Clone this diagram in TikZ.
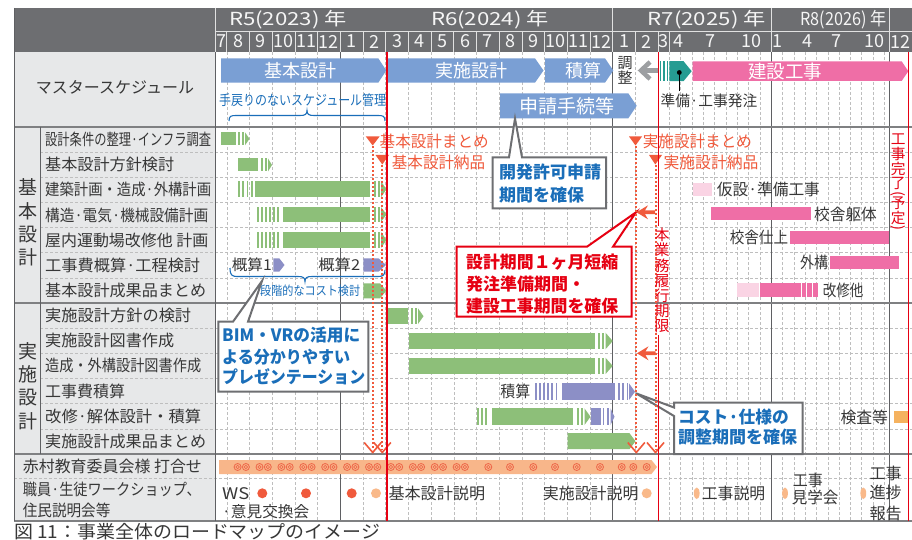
\documentclass[tikz,border=0pt]{standalone}
\usepackage{fontspec}
\setmainfont{Noto Sans CJK JP}
\usepackage{graphicx}
\definecolor{hdr}{RGB}{109,110,113}
\definecolor{hdrtxt}{RGB}{245,245,245}
\definecolor{labbg}{RGB}{231,232,233}
\definecolor{txt}{RGB}{55,55,55}
\definecolor{gridc}{RGB}{190,190,190}
\definecolor{bordc}{RGB}{95,96,99}
\definecolor{gbar}{RGB}{141,191,121}
\definecolor{pbar}{RGB}{140,143,198}
\definecolor{bbar}{RGB}{122,159,212}
\definecolor{pinkb}{RGB}{239,110,166}
\definecolor{lpink}{RGB}{250,212,228}
\definecolor{tealb}{RGB}{38,156,146}
\definecolor{oband}{RGB}{248,182,138}
\definecolor{ored}{RGB}{240,90,60}
\definecolor{ocir}{RGB}{238,105,75}
\definecolor{rline}{RGB}{230,0,18}
\definecolor{btxt}{RGB}{26,110,185}
\definecolor{cgray}{RGB}{110,111,114}
\definecolor{osq}{RGB}{245,178,95}
\definecolor{ldot}{RGB}{249,185,138}
\definecolor{agray}{RGB}{157,159,162}
\newcommand{\fs}[1]{\fontsize{#1}{#1}\selectfont}
\newcommand{\fw}[2]{\resizebox{#1pt}{\height}{#2}}
\newcommand{\rp}[1]{\rotatebox[origin=c]{-90}{#1}}
\newcommand{\pent}[6]{\fill[#1] ({#2},{#5-#6}) -- ({#3},{#5-#6}) -- ({#4},{#5}) -- ({#3},{#5+#6}) -- ({#2},{#5+#6}) -- cycle;}
\newcommand{\strp}[5]{\foreach \k in {1,...,#3}{\fill[#1] ({#2+4.1*(\k-1)},{#4-#5}) rectangle ++(1.9,{2*#5});}}
\newcommand{\tipp}[5]{\fill[#1] ({#2},{#4-#5}) -- ({#3},{#4}) -- ({#2},{#4+#5}) -- cycle;}
\newcommand{\rbar}[5]{\fill[#1] ({#2},{#4-#5}) rectangle ({#3},{#4+#5});}
\newcommand{\dcirc}[1]{\draw[ocir,line width=0.85pt] (#1,467) circle[radius=3.5]; \draw[ocir,line width=0.7pt] (#1,467) circle[radius=1.7];}
\newcommand{\vhead}[1]{\draw[ored,line width=1.6pt] ({#1-8.5},442.5) -- (#1,452.5) -- ({#1+8.5},442.5);}
\begin{document}
\begin{tikzpicture}[x=1pt,y=-1pt,
  lab/.style={anchor=west,inner sep=0pt,text=txt,font=\fs{16}},
  hdrt/.style={inner sep=0pt,text=hdrtxt,font=\fs{18}},
  gridl/.style={draw=gridc,dash pattern=on 3pt off 2pt,line width=0.6pt},
  solidl/.style={draw=bordc,line width=1pt},
  secl/.style={draw=bordc!80,line width=1.3pt},
  hdl/.style={draw=hdrtxt!85!hdr,line width=0.8pt},
  callb/.style={anchor=west,inner sep=0pt,text=btxt,font=\fs{17}\bfseries},
  callr/.style={anchor=west,inner sep=0pt,text=rline,font=\fs{17}\bfseries},
  mtxt/.style={anchor=west,inner sep=0pt,text=ored,font=\fs{16}},
  btext/.style={inner sep=0pt,text=white,font=\fs{18}},
  dotl/.style={draw=ored,line width=2pt,dash pattern=on 1.8pt off 2.2pt},
  callbox/.style={fill=white,draw=cgray,line width=2pt,line join=miter}
]
\useasboundingbox (0,0) rectangle (912,540);
\fill[white] (0,0) rectangle (912,540);
% label column and header
\fill[labbg] (14,52) rectangle (215,521);
\fill[hdr] (14,8) rectangle (912,52);
% grid
\foreach \t in {-5,...,13} \draw[gridl] ({340.3+22.7*\t},52) -- ++(0,469);
\foreach \k in {0,...,8} \draw[gridl] ({669.3+11.33*\k},52) -- ++(0,469);
\foreach \k in {1,...,10} \draw[gridl] ({771.3+11.3*\k},52) -- ++(0,469);
\foreach \i in {1,...,6} \draw[gridl] (40,{127+25.143*\i}) -- (912,{127+25.143*\i});
\foreach \i in {1,...,5} \draw[gridl] (40,{303+25.167*\i}) -- (912,{303+25.167*\i});
\draw[gridl] (14,478) -- (912,478);
% solid lines
\foreach \xx in {340.3,612.7,771.3,889.3} \draw[solidl] (\xx,52) -- (\xx,521);
\draw[secl] (14,127) -- (912,127);
\draw[secl] (14,303) -- (912,303);
\draw[secl] (14,454) -- (912,454);
\draw[secl] (14,521) -- (912,521);
\draw[solidl] (14,8) -- (14,521);
\draw[solidl] (40,127) -- (40,454);
\draw[solidl] (215,52) -- (215,521);
% header dividers
\draw[hdl] (215,31) -- (912,31);
\draw[hdl] (215,8) -- (215,52);
\foreach \xx in {612.7,771.3,889.3} \draw[hdl] (\xx,8) -- (\xx,52);
\foreach \t in {-5,...,14} \draw[hdl] ({340.3+22.7*\t},31) -- ++(0,21);
\draw[hdl] (669.3,31) -- (669.3,52);
% header texts
\node[hdrt] (y5) at (288,19.5) {\fw{118}{R5(2023) 年}};
\node[hdrt] (y6) at (490,19.5) {\fw{118}{R6(2024) 年}};
\node[hdrt] (y7) at (706.7,19.5) {\fw{118}{R7(2025) 年}};
\node[hdrt] (y8) at (843.3,19.5) {\fw{86}{R8(2026) 年}};
\node[hdrt] (m7a) at (221,41.5) {7};
\foreach \m [count=\c from -5] in {8,9,10,11,12,1,2,3,4,5,6,7,8,9,10,11,12,1,2}
  \node[hdrt] (mm\c) at ({340.3+22.7*\c+11.35},41.5) {\m};
\node[hdrt] (m3c) at (663.8,41.5) {3};
\node[hdrt] (m4c) at (678.5,41.5) {4};
\node[hdrt] (m7c) at (710.5,41.5) {7};
\node[hdrt] (m10c) at (751.7,41.5) {10};
\node[hdrt] (m1d) at (777.5,41.5) {1};
\node[hdrt] (m4d) at (807.5,41.5) {4};
\node[hdrt] (m7d) at (836.7,41.5) {7};
\node[hdrt] (m10d) at (874.2,41.5) {10};
\node[hdrt] (m12d) at (900,41.5) {12};
% labels
\node[inner sep=0pt,text=txt,font=\fs{16}] (lms) at (115,87) {マスタースケジュール};
\node[inner sep=0pt,text=txt,align=center,font=\fontsize{19}{23.3}\selectfont] (lsa) at (27.5,222.5) {基\\本\\設\\計};
\node[inner sep=0pt,text=txt,align=center,font=\fontsize{19}{23.3}\selectfont] (lsb) at (28.3,386) {実\\施\\設\\計};
\node[lab] (la1) at (45,139.6) {\fw{166}{設計条件の整理·インフラ調査}};
\node[lab] (la2) at (45,164.7) {\fw{129}{基本設計方針検討}};
\node[lab] (la3) at (45,189.8) {\fw{166}{建築計画・造成·外構計画}};
\node[lab] (la4) at (45,215.0) {\fw{163}{構造·電気·機械設備計画}};
\node[lab] (la5) at (45,240.1) {\fw{163}{屋内運動場改修他 計画}};
\node[lab] (la6) at (45,265.3) {\fw{155}{工事費概算·工程検討}};
\node[lab] (la7) at (45,290.4) {\fw{161}{基本設計成果品まとめ}};
\node[lab] (lb1) at (45,315.6) {\fw{146}{実施設計方針の検討}};
\node[lab] (lb2) at (45,340.8) {\fw{129}{実施設計図書作成}};
\node[lab] (lb3) at (45,365.9) {\fw{156}{造成・外構設計図書作成}};
\node[lab] (lb4) at (45,391.1) {\fw{80}{工事費積算}};
\node[lab] (lb5) at (45,416.3) {\fw{156}{改修·解体設計・積算}};
\node[lab] (lb6) at (45,441.4) {\fw{161}{実施設計成果品まとめ}};
\node[lab] (lc1) at (22.7,466.5) {\fw{179}{赤村教育委員会様 打合せ}};
\node[lab] (lc2) at (22.7,489.5) {\fw{178}{職員·生徒ワークショップ、}};
\node[lab] (lc3) at (22.7,510.8) {\fw{87.5}{住民説明会等}};
% master schedule
\pent{bbar}{221}{378.3}{386.3}{70.5}{12.2}
\pent{bbar}{386.7}{535}{543.5}{70.5}{12.2}
\pent{bbar}{545}{605}{613.3}{70.5}{12.2}
\pent{bbar}{500}{628.3}{636.7}{105.8}{12.5}
\node[btext] (tk) at (300,70.5) {基本設計};
\node[btext] (tj) at (471.7,70.5) {実施設計};
\node[btext] (ts) at (583,70.5) {積算};
\node[btext,font=\fs{19}] (tsh) at (567,105.8) {申請手続等};
\node[inner sep=0pt,text=txt,align=center,font=\fontsize{15}{15.5}\selectfont] (tcho) at (625,70.5) {調\\整};
\draw[agray,line width=4.5pt] (658.3,70.5) -- (642,70.5);
\draw[agray,line width=4.5pt,line join=miter] (650,62) -- (641,70.5) -- (650,79);
\foreach \xx in {659.8,663.2,666.6} \fill[tealb] (\xx,61.2) rectangle ++(1.6,20);
\pent{tealb}{669.3}{683.5}{691.7}{71.2}{10}
\pent{pinkb}{692.7}{901.7}{908.3}{71.2}{9.8}
\node[btext,font=\fs{18.5}] (tkj) at (785,71.2) {建設工事};
\fill[black] (679.3,72.5) circle[radius=2.4];
\draw[black,line width=0.9pt] (679.3,72.5) -- (679.3,91);
\node[inner sep=0pt,text=txt,font=\fs{15}] (tjh) at (709,100.5) {\fw{96.7}{準備·工事発注}};
\node[anchor=west,inner sep=0pt,text=btxt,font=\fs{14}] (ttm) at (219,100) {\fw{167}{手戻りのないスケジュール管理}};
\draw[btxt,line width=1.1pt] (229,121) .. controls (229,116) and (231,115.5) .. (236,115.5) -- (300,115.5) .. controls (305,115.5) and (307,114.5) .. (307,110.5) .. controls (307,114.5) and (309,115.5) .. (314,115.5) -- (378,115.5) .. controls (383,115.5) and (385,116) .. (385,121);
% basic design bars
\rbar{gbar}{221}{236}{138.8}{6.5} \strp{gbar}{238.3}{2}{138.8}{6.5} \tipp{gbar}{245}{249.5}{138.8}{6.5}
\rbar{gbar}{237.7}{258.3}{165}{6.5} \strp{gbar}{261}{2}{165}{6.5} \tipp{gbar}{268}{272}{165}{6.5}
\strp{gbar}{238.3}{4}{189.3}{8} \rbar{gbar}{255}{370}{189.3}{8} \strp{gbar}{374}{2}{189.3}{8} \tipp{gbar}{381}{386.5}{189.3}{8}
\strp{gbar}{256.7}{6}{214.5}{7.5} \rbar{gbar}{283.3}{370}{214.5}{7.5} \strp{gbar}{374}{2}{214.5}{7.5} \tipp{gbar}{381}{386.5}{214.5}{7.5}
\strp{gbar}{256.7}{6}{240}{8} \rbar{gbar}{283.3}{370}{240}{8} \strp{gbar}{374}{2}{240}{8} \tipp{gbar}{381}{386.5}{240}{8}
\node[anchor=east,inner sep=0pt,text=txt,font=\fs{15}] (tg1) at (272,264.5) {\fw{40}{概算1}};
\pent{pbar}{273.3}{279.3}{284.5}{265}{6.7}
\node[anchor=east,inner sep=0pt,text=txt,font=\fs{15}] (tg2) at (360.5,264.5) {\fw{42}{概算2}};
\pent{pbar}{363.3}{378.5}{386}{265}{6.7}
\pent{gbar}{363.3}{380}{386.3}{290.8}{7.5}
\draw[btxt,line width=1.1pt] (230,268) .. controls (230,275) and (232,276.5) .. (237,276.5) -- (298,276.5) .. controls (303,276.5) and (305,277.5) .. (305,281.5) .. controls (305,277.5) and (307,276.5) .. (312,276.5) -- (378,276.5) .. controls (383,276.5) and (385,275) .. (385,270);
% detailed design bars
\rbar{gbar}{387.3}{408.3}{316.2}{7.8} \strp{gbar}{411}{2}{316.2}{7.8} \tipp{gbar}{418}{423.5}{316.2}{7.8}
\rbar{gbar}{409.3}{595}{341}{8.3} \strp{gbar}{597.7}{2}{341}{8.3} \tipp{gbar}{605.5}{612.7}{341}{8.3}
\rbar{gbar}{409.3}{595}{365.9}{8.2} \strp{gbar}{597.7}{2}{365.9}{8.2} \tipp{gbar}{605.5}{612.7}{365.9}{8.2}
\node[anchor=east,inner sep=0pt,text=txt,font=\fs{16}] (tsk) at (530.5,391.5) {\fw{30}{積算}};
\strp{pbar}{535}{6}{391.7}{8.3} \rbar{pbar}{561.7}{615}{391.7}{8.3} \strp{pbar}{618.3}{3}{391.7}{8.3} \tipp{pbar}{629}{635}{391.7}{8.3}
\strp{gbar}{476.7}{3}{416.7}{8.3} \rbar{gbar}{491.7}{573.3}{416.7}{8.3} \strp{gbar}{576.7}{2}{416.7}{8.3} \tipp{gbar}{584.5}{590.5}{416.7}{8.3}
\rbar{pbar}{590.7}{600.5}{416.7}{8.3} \strp{pbar}{602.5}{2}{416.7}{8.3} \tipp{pbar}{610.5}{614.5}{416.7}{8.3}
\pent{gbar}{567.7}{629.5}{635.5}{441.2}{8}
% construction bars
\rbar{lpink}{692.7}{711.7}{189.2}{6.5}
\node[lab] (tkr) at (716.7,189.2) {\fw{103}{仮設·準備工事}};
\rbar{pinkb}{711}{810.7}{213.3}{6.7}
\node[lab] (tkt) at (814,214) {\fw{62.7}{校舎躯体}};
\node[lab,anchor=east] (tsa) at (788.3,237.5) {\fw{58.3}{校舎仕上}};
\rbar{pinkb}{790}{889.3}{237.7}{6.7}
\node[lab,anchor=east] (tgk) at (828.3,262.7) {\fw{28}{外構}};
\rbar{pinkb}{830}{899.3}{262.7}{6.7}
\rbar{lpink}{736.7}{759.3}{290}{6.7}
\rbar{pinkb}{760}{818.3}{290}{6.7}
\foreach \xx in {800.5,806,811.5} \fill[white] (\xx,283.3) rectangle ++(1.3,13.4);
\node[lab] (tks) at (822.7,290) {\fw{40.6}{改修他}};
\node[lab,anchor=east] (tkn) at (888.3,417.3) {\fw{47.6}{検査等}};
\fill[osq] (894.3,411) rectangle (908.3,423.3);
% meeting band
\pent{oband}{219}{651.5}{657}{467}{7}
\foreach \k in {0,...,10} {\dcirc{{237.6+21.9*\k}} \dcirc{{245.9+21.9*\k}}}
\foreach \xx in {488.3,510,533.3,555,576.7,600,621.7,633.3,646.7} {\dcirc{\xx}}
% workshop row
\node[lab] (tws) at (222,493.3) {\fw{27}{WS}};
\node[lab,font=\fs{15.5}] (tik) at (222,511.7) {\fw{87}{·意見交換会}};
\foreach \xx in {262.3,306,351.7} \fill[ored] (\xx,493.3) circle[radius=5];
\fill[ldot] (376,493.3) circle[radius=5];
\fill[ldot] (646.7,493.3) circle[radius=5];
\foreach \xx in {696.7,785,863.3} \fill[ldot] (\xx,493.3) ellipse[x radius=2.9,y radius=5.8];
\node[lab] (tkb) at (388.3,493.3) {\fw{96.7}{基本設計説明}};
\node[lab] (tjb) at (542.7,493.3) {\fw{95.6}{実施設計説明}};
\node[lab] (tkjb) at (701.7,493.3) {\fw{63.3}{工事説明}};
\node[lab] (tkg1) at (792.7,480.7) {\fw{30}{工事}};
\node[lab] (tkg2) at (791.7,497.3) {\fw{46.6}{見学会}};
\node[lab] (tsn1) at (869.3,473.3) {\fw{32}{工事}};
\node[lab] (tsn2) at (869.3,492.7) {\fw{32}{進捗}};
\node[lab] (tsn3) at (869.3,513.3) {\fw{32}{報告}};
% callouts
\draw[callbox] (492.7,157.3) -- (509,157.3) -- (515,118.5) -- (522,157.3) -- (606,157.3) -- (606,208.3) -- (492.7,208.3) -- cycle;
\node[callb] (c1a) at (499,172.3) {開発許可申請};
\node[callb] (c1b) at (499,195) {期間を確保};
\draw[callbox,draw=rline] (456.7,246.7) -- (587,246.7) -- (636,212.3) -- (613,246.7) -- (631.7,246.7) -- (631.7,316.7) -- (456.7,316.7) -- cycle;
\node[callr] (c2a) at (466,261.7) {\fw{152}{設計期間１ヶ月短縮}};
\node[callr] (c2b) at (466,284.3) {発注準備期間・};
\node[callr] (c2c) at (466,306) {\fw{152}{建設工事期間を確保}};
\draw[callbox] (218.3,321.7) -- (233,321.7) -- (262,281) -- (248,321.7) -- (368.3,321.7) -- (368.3,391.7) -- (218.3,391.7) -- cycle;
\node[callb] (c3a) at (222,335) {\fw{138}{BIM・VRの活用に}};
\node[callb] (c3b) at (222,356.7) {\fw{128}{よる分かりやすい}};
\node[callb] (c3c) at (222,376.7) {\fw{143}{プレゼンテーション}};
\node[anchor=west,inner sep=0pt,text=btxt,font=\fs{12.5}] (tdk) at (260,291) {\fw{100}{段階的なコスト検討}};
\draw[callbox] (674,402.7) -- (802.7,402.7) -- (802.7,454) -- (674,454) -- (674,416) -- (636,393.3) -- (674,407.5) -- cycle;
\node[callb] (c4a) at (678,416.7) {\fw{110.7}{コスト·仕様の}};
\node[callb] (c4b) at (678,436.7) {\fw{119}{調整期間を確保}};
% milestone markers
\fill[ored] (365.8,136.5) -- (379.6,136.5) -- (372.7,145.5) -- cycle;
\fill[ored] (375.5,155) -- (389,155) -- (382.3,164.5) -- cycle;
\fill[ored] (629,136.5) -- (642,136.5) -- (635.5,145.5) -- cycle;
\fill[ored] (649,155) -- (662,155) -- (655.3,164.5) -- cycle;
\node[mtxt] (mk1) at (379.5,141) {\fw{109}{基本設計まとめ}};
\node[mtxt] (mk2) at (391.7,162.5) {\fw{93.3}{基本設計納品}};
\node[mtxt] (mk3) at (642.7,141) {\fw{109}{実施設計まとめ}};
\node[mtxt] (mk4) at (663.3,162.5) {\fw{95}{実施設計納品}};
\draw[dotl] (372.7,146) -- (372.7,450);
\draw[dotl] (382.3,165) -- (382.3,450);
\draw[dotl] (636.3,146) -- (636.3,450);
\draw[dotl] (655.5,165) -- (655.5,450);
\vhead{372.7} \vhead{382.3} \vhead{636.3} \vhead{655.5}
\fill[ored] (636.5,212.3) -- (648,205.3) -- (645,210.4) -- (655,210.4) -- (655,214.2) -- (645,214.2) -- (648,219.3) -- cycle;
\fill[ored] (637,353.3) -- (648.5,346.3) -- (645.5,351.4) -- (655.5,351.4) -- (655.5,355.2) -- (645.5,355.2) -- (648.5,360.3) -- cycle;
% red lines
\draw[rline,line width=1.6pt] (386.7,52) -- (386.7,521);
\draw[rline,line width=1.6pt] (658.3,52) -- (658.3,226);
\draw[rline,line width=1.6pt] (658.3,335) -- (658.3,521);
\draw[rline,line width=1.6pt] (908.3,52) -- (908.3,521);
\node[inner sep=0pt,text=rline,align=center,font=\fontsize{15}{15.1}\selectfont] (tgy) at (662,280.5) {本\\業\\務\\履\\行\\期\\限};
\node[inner sep=0pt,text=rline,align=center,font=\fontsize{14.7}{14.7}\selectfont] (tkk) at (898.3,183.5) {工\\事\\完\\了\\[-5pt]\rp{(}\\[-5pt]予\\定\\[-5pt]\rp{)}};
% caption
\node[anchor=west,inner sep=0pt,text=txt,font=\fs{18}] (cap) at (14,532) {\fw{366}{図 11：事業全体のロードマップのイメージ}};
\end{tikzpicture}
\end{document}
